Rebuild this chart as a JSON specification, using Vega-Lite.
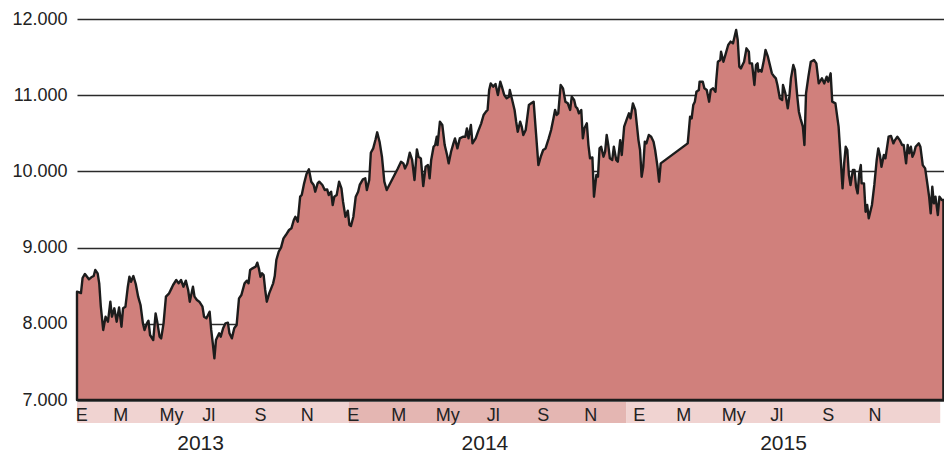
{
"$schema": "https://vega.github.io/schema/vega-lite/v6.json",
"padding": {"left": 11, "top": 10, "right": 0, "bottom": 0},
"background": "white",
"config": {"view": {"stroke": null}, "font": "Liberation Sans"},
"bounds": "flush",
"spacing": 2,
"vconcat": [
{
"width": 868, "height": 381,
"data": {"values": [
{"d":"2013-01-02","v":8421},{"d":"2013-01-07","v":8404},{"d":"2013-01-09","v":8601},{"d":"2013-01-12","v":8654},{"d":"2013-01-17","v":8584},{"d":"2013-01-20","v":8610},{"d":"2013-01-23","v":8627},{"d":"2013-01-25","v":8706},{"d":"2013-01-28","v":8662},{"d":"2013-01-30","v":8531},
{"d":"2013-02-01","v":8224},{"d":"2013-02-04","v":7919},{"d":"2013-02-07","v":8093},{"d":"2013-02-10","v":8028},{"d":"2013-02-13","v":8290},{"d":"2013-02-15","v":8093},{"d":"2013-02-18","v":8203},{"d":"2013-02-21","v":8028},{"d":"2013-02-24","v":8216},{"d":"2013-02-27","v":7962},
{"d":"2013-03-01","v":8203},{"d":"2013-03-04","v":8224},{"d":"2013-03-07","v":8487},{"d":"2013-03-09","v":8618},{"d":"2013-03-11","v":8552},{"d":"2013-03-14","v":8627},{"d":"2013-03-17","v":8522},{"d":"2013-03-20","v":8356},{"d":"2013-03-23","v":8247},{"d":"2013-03-26","v":8006},{"d":"2013-03-28","v":7919},{"d":"2013-03-31","v":8006},
{"d":"2013-04-02","v":8041},{"d":"2013-04-04","v":7853},{"d":"2013-04-08","v":7787},{"d":"2013-04-11","v":8137},{"d":"2013-04-13","v":8028},{"d":"2013-04-16","v":7831},{"d":"2013-04-18","v":7809},{"d":"2013-04-21","v":8006},{"d":"2013-04-24","v":8356},{"d":"2013-04-28","v":8400},
{"d":"2013-05-01","v":8465},{"d":"2013-05-03","v":8509},{"d":"2013-05-07","v":8575},{"d":"2013-05-10","v":8531},{"d":"2013-05-13","v":8575},{"d":"2013-05-16","v":8487},{"d":"2013-05-19","v":8566},{"d":"2013-05-22","v":8444},{"d":"2013-05-24","v":8290},{"d":"2013-05-28","v":8487},{"d":"2013-05-30","v":8356},
{"d":"2013-06-02","v":8312},{"d":"2013-06-05","v":8290},{"d":"2013-06-09","v":8224},{"d":"2013-06-11","v":8093},{"d":"2013-06-14","v":8072},{"d":"2013-06-18","v":8159},{"d":"2013-06-20","v":7919},{"d":"2013-06-22","v":7744},{"d":"2013-06-24","v":7547},{"d":"2013-06-26","v":7787},{"d":"2013-06-30","v":7875},
{"d":"2013-07-02","v":7831},{"d":"2013-07-05","v":7941},{"d":"2013-07-08","v":8006},{"d":"2013-07-11","v":8015},{"d":"2013-07-13","v":7875},{"d":"2013-07-16","v":7809},{"d":"2013-07-19","v":7941},{"d":"2013-07-22","v":7984},{"d":"2013-07-25","v":8334},{"d":"2013-07-28","v":8378},
{"d":"2013-08-01","v":8531},{"d":"2013-08-04","v":8566},{"d":"2013-08-06","v":8531},{"d":"2013-08-08","v":8706},{"d":"2013-08-11","v":8728},{"d":"2013-08-15","v":8750},{"d":"2013-08-17","v":8802},{"d":"2013-08-19","v":8728},{"d":"2013-08-21","v":8618},{"d":"2013-08-23","v":8662},{"d":"2013-08-25","v":8640},{"d":"2013-08-27","v":8444},{"d":"2013-08-29","v":8290},
{"d":"2013-09-01","v":8400},{"d":"2013-09-06","v":8531},{"d":"2013-09-08","v":8627},{"d":"2013-09-10","v":8837},{"d":"2013-09-13","v":8946},{"d":"2013-09-16","v":9003},{"d":"2013-09-19","v":9121},{"d":"2013-09-22","v":9165},{"d":"2013-09-26","v":9231},{"d":"2013-09-29","v":9253},
{"d":"2013-10-02","v":9362},{"d":"2013-10-04","v":9405},{"d":"2013-10-07","v":9340},{"d":"2013-10-10","v":9668},{"d":"2013-10-12","v":9690},{"d":"2013-10-15","v":9843},{"d":"2013-10-18","v":9966},{"d":"2013-10-21","v":10027},{"d":"2013-10-24","v":9865},{"d":"2013-10-27","v":9822},{"d":"2013-10-29","v":9734},
{"d":"2013-11-01","v":9843},{"d":"2013-11-03","v":9865},{"d":"2013-11-07","v":9822},{"d":"2013-11-10","v":9756},{"d":"2013-11-13","v":9764},{"d":"2013-11-15","v":9690},{"d":"2013-11-18","v":9734},{"d":"2013-11-20","v":9559},{"d":"2013-11-22","v":9668},{"d":"2013-11-25","v":9690},{"d":"2013-11-28","v":9865},
{"d":"2013-12-01","v":9778},{"d":"2013-12-03","v":9603},{"d":"2013-12-06","v":9405},{"d":"2013-12-09","v":9484},{"d":"2013-12-11","v":9297},{"d":"2013-12-13","v":9283},{"d":"2013-12-16","v":9405},{"d":"2013-12-19","v":9668},{"d":"2013-12-22","v":9734},{"d":"2013-12-24","v":9822},{"d":"2013-12-28","v":9896},{"d":"2013-12-31","v":9909},
{"d":"2014-01-02","v":9756},{"d":"2014-01-05","v":9887},{"d":"2014-01-07","v":10245},{"d":"2014-01-10","v":10302},{"d":"2014-01-13","v":10421},{"d":"2014-01-15","v":10513},{"d":"2014-01-18","v":10390},{"d":"2014-01-21","v":10193},{"d":"2014-01-24","v":9865},{"d":"2014-01-27","v":9756},
{"d":"2014-02-10","v":10039},{"d":"2014-02-14","v":10127},{"d":"2014-02-17","v":10105},{"d":"2014-02-19","v":10039},{"d":"2014-02-22","v":10105},{"d":"2014-02-25","v":10245},{"d":"2014-02-28","v":10150},
{"d":"2014-03-03","v":9887},{"d":"2014-03-06","v":10289},{"d":"2014-03-08","v":10193},{"d":"2014-03-11","v":10171},{"d":"2014-03-14","v":9808},{"d":"2014-03-17","v":10061},{"d":"2014-03-20","v":10083},{"d":"2014-03-22","v":9909},{"d":"2014-03-24","v":10150},{"d":"2014-03-27","v":10324},{"d":"2014-03-29","v":10346},{"d":"2014-03-31","v":10455},
{"d":"2014-04-01","v":10346},{"d":"2014-04-04","v":10652},{"d":"2014-04-07","v":10609},{"d":"2014-04-10","v":10346},{"d":"2014-04-13","v":10215},{"d":"2014-04-15","v":10105},{"d":"2014-04-18","v":10258},{"d":"2014-04-21","v":10368},{"d":"2014-04-23","v":10433},{"d":"2014-04-26","v":10302},{"d":"2014-04-29","v":10433},
{"d":"2014-05-03","v":10455},{"d":"2014-05-06","v":10455},{"d":"2014-05-08","v":10565},{"d":"2014-05-10","v":10433},{"d":"2014-05-13","v":10609},{"d":"2014-05-15","v":10368},{"d":"2014-05-19","v":10433},{"d":"2014-05-22","v":10521},{"d":"2014-05-26","v":10631},{"d":"2014-05-29","v":10740},
{"d":"2014-06-01","v":10784},{"d":"2014-06-03","v":10806},{"d":"2014-06-05","v":11068},{"d":"2014-06-07","v":11155},{"d":"2014-06-10","v":11112},{"d":"2014-06-13","v":11147},{"d":"2014-06-16","v":11003},{"d":"2014-06-19","v":11177},{"d":"2014-06-21","v":11112},{"d":"2014-06-24","v":11003},{"d":"2014-06-27","v":10959},{"d":"2014-06-30","v":10981},
{"d":"2014-07-01","v":11068},{"d":"2014-07-04","v":10937},{"d":"2014-07-07","v":10806},{"d":"2014-07-09","v":10652},{"d":"2014-07-11","v":10521},{"d":"2014-07-14","v":10652},{"d":"2014-07-16","v":10587},{"d":"2014-07-18","v":10478},{"d":"2014-07-21","v":10543},{"d":"2014-07-25","v":10871},{"d":"2014-07-28","v":10893},{"d":"2014-07-31","v":10915},
{"d":"2014-08-03","v":10500},{"d":"2014-08-06","v":10083},{"d":"2014-08-09","v":10193},{"d":"2014-08-12","v":10281},{"d":"2014-08-15","v":10302},{"d":"2014-08-19","v":10433},{"d":"2014-08-22","v":10543},{"d":"2014-08-25","v":10696},{"d":"2014-08-27","v":10806},{"d":"2014-08-29","v":10740},{"d":"2014-08-31","v":10762},
{"d":"2014-09-03","v":11134},{"d":"2014-09-06","v":11090},{"d":"2014-09-09","v":10915},{"d":"2014-09-12","v":10893},{"d":"2014-09-15","v":10806},{"d":"2014-09-17","v":10981},{"d":"2014-09-20","v":10937},{"d":"2014-09-22","v":10849},{"d":"2014-09-24","v":10827},{"d":"2014-09-26","v":10762},{"d":"2014-09-29","v":10806},
{"d":"2014-10-01","v":10433},{"d":"2014-10-03","v":10565},{"d":"2014-10-06","v":10631},{"d":"2014-10-08","v":10346},{"d":"2014-10-10","v":10171},{"d":"2014-10-13","v":10184},{"d":"2014-10-15","v":9668},{"d":"2014-10-18","v":9953},{"d":"2014-10-20","v":9930},{"d":"2014-10-22","v":10302},{"d":"2014-10-24","v":10324},{"d":"2014-10-27","v":10193},{"d":"2014-10-29","v":10258},{"d":"2014-10-31","v":10478},
{"d":"2014-11-02","v":10346},{"d":"2014-11-04","v":10171},{"d":"2014-11-07","v":10150},{"d":"2014-11-09","v":10324},{"d":"2014-11-12","v":10150},{"d":"2014-11-14","v":10127},{"d":"2014-11-17","v":10411},{"d":"2014-11-19","v":10215},{"d":"2014-11-22","v":10587},{"d":"2014-11-25","v":10675},{"d":"2014-11-28","v":10762},{"d":"2014-11-30","v":10696},
{"d":"2014-12-03","v":10893},{"d":"2014-12-06","v":10806},{"d":"2014-12-08","v":10609},{"d":"2014-12-10","v":10411},{"d":"2014-12-12","v":10281},{"d":"2014-12-14","v":9930},{"d":"2014-12-16","v":10061},{"d":"2014-12-18","v":10390},{"d":"2014-12-20","v":10368},{"d":"2014-12-23","v":10478},{"d":"2014-12-26","v":10455},{"d":"2014-12-29","v":10390},{"d":"2014-12-31","v":10281},
{"d":"2015-01-03","v":10061},{"d":"2015-01-05","v":9865},{"d":"2015-01-07","v":10105},
{"d":"2015-02-10","v":10368},{"d":"2015-02-11","v":10478},{"d":"2015-02-13","v":10718},{"d":"2015-02-15","v":10696},{"d":"2015-02-17","v":10871},{"d":"2015-02-19","v":10915},{"d":"2015-02-21","v":11046},{"d":"2015-02-24","v":11068},{"d":"2015-02-25","v":11177},
{"d":"2015-03-01","v":11177},{"d":"2015-03-03","v":11090},{"d":"2015-03-06","v":11068},{"d":"2015-03-09","v":10915},{"d":"2015-03-11","v":11068},{"d":"2015-03-14","v":11090},{"d":"2015-03-17","v":11046},{"d":"2015-03-18","v":11199},{"d":"2015-03-20","v":11439},{"d":"2015-03-23","v":11461},{"d":"2015-03-24","v":11571},{"d":"2015-03-27","v":11439},{"d":"2015-03-30","v":11549},
{"d":"2015-04-02","v":11659},{"d":"2015-04-05","v":11703},{"d":"2015-04-08","v":11680},{"d":"2015-04-10","v":11768},{"d":"2015-04-12","v":11856},{"d":"2015-04-14","v":11724},{"d":"2015-04-16","v":11374},{"d":"2015-04-18","v":11352},{"d":"2015-04-20","v":11396},{"d":"2015-04-22","v":11439},{"d":"2015-04-25","v":11615},{"d":"2015-04-28","v":11571},{"d":"2015-04-29","v":11418},
{"d":"2015-05-02","v":11418},{"d":"2015-05-05","v":11134},{"d":"2015-05-07","v":11396},{"d":"2015-05-09","v":11418},{"d":"2015-05-10","v":11309},{"d":"2015-05-12","v":11331},{"d":"2015-05-14","v":11309},{"d":"2015-05-17","v":11461},{"d":"2015-05-19","v":11593},{"d":"2015-05-22","v":11505},{"d":"2015-05-24","v":11418},{"d":"2015-05-27","v":11287},{"d":"2015-05-30","v":11243},
{"d":"2015-06-01","v":11221},{"d":"2015-06-03","v":11134},{"d":"2015-06-06","v":10959},{"d":"2015-06-09","v":10937},{"d":"2015-06-10","v":11134},{"d":"2015-06-13","v":11024},{"d":"2015-06-16","v":10827},{"d":"2015-06-18","v":10981},{"d":"2015-06-20","v":11221},{"d":"2015-06-23","v":11396},{"d":"2015-06-25","v":11331},{"d":"2015-06-28","v":10980},{"d":"2015-06-30","v":10784},
{"d":"2015-07-02","v":10696},{"d":"2015-07-05","v":10587},{"d":"2015-07-07","v":10346},{"d":"2015-07-09","v":11024},{"d":"2015-07-12","v":11243},{"d":"2015-07-15","v":11439},{"d":"2015-07-19","v":11461},{"d":"2015-07-22","v":11418},{"d":"2015-07-25","v":11155},{"d":"2015-07-29","v":11221},
{"d":"2015-08-01","v":11155},{"d":"2015-08-04","v":11243},{"d":"2015-08-06","v":11177},{"d":"2015-08-09","v":11287},{"d":"2015-08-11","v":10915},{"d":"2015-08-15","v":10893},{"d":"2015-08-19","v":10587},{"d":"2015-08-22","v":10105},{"d":"2015-08-24","v":9778},{"d":"2015-08-26","v":10105},{"d":"2015-08-28","v":10324},{"d":"2015-08-30","v":10281},
{"d":"2015-09-01","v":9953},{"d":"2015-09-03","v":9822},{"d":"2015-09-06","v":10019},{"d":"2015-09-08","v":10019},{"d":"2015-09-10","v":9799},{"d":"2015-09-12","v":9712},{"d":"2015-09-14","v":9974},{"d":"2015-09-16","v":10083},{"d":"2015-09-17","v":9843},{"d":"2015-09-20","v":9843},{"d":"2015-09-22","v":9471},{"d":"2015-09-24","v":9559},{"d":"2015-09-26","v":9384},{"d":"2015-09-30","v":9559},
{"d":"2015-10-03","v":9822},{"d":"2015-10-06","v":10150},{"d":"2015-10-08","v":10302},{"d":"2015-10-10","v":10215},{"d":"2015-10-12","v":10061},{"d":"2015-10-15","v":10215},{"d":"2015-10-17","v":10171},{"d":"2015-10-21","v":10455},{"d":"2015-10-24","v":10465},{"d":"2015-10-27","v":10368},{"d":"2015-10-29","v":10411},
{"d":"2015-11-01","v":10455},{"d":"2015-11-04","v":10411},{"d":"2015-11-07","v":10346},{"d":"2015-11-09","v":10346},{"d":"2015-11-12","v":10105},{"d":"2015-11-14","v":10346},{"d":"2015-11-16","v":10237},{"d":"2015-11-18","v":10324},{"d":"2015-11-20","v":10193},{"d":"2015-11-22","v":10237},{"d":"2015-11-24","v":10324},{"d":"2015-11-28","v":10368},{"d":"2015-11-30","v":10324},
{"d":"2015-12-03","v":10083},{"d":"2015-12-06","v":10039},{"d":"2015-12-09","v":9822},{"d":"2015-12-11","v":9668},{"d":"2015-12-13","v":9449},{"d":"2015-12-15","v":9799},{"d":"2015-12-17","v":9580},{"d":"2015-12-19","v":9668},{"d":"2015-12-22","v":9428},{"d":"2015-12-24","v":9668},{"d":"2015-12-27","v":9625},{"d":"2015-12-29","v":9625}
]},
"mark": {"type": "area", "fill": "#d0807c", "stroke": "#1c1c1c", "strokeWidth": 2.4, "strokeJoin": "round"},
"encoding": {
"x": {"field": "d", "type": "temporal",
"scale": {"domain": [{"year": 2013, "month": 1, "date": 2, "utc": true}, {"year": 2015, "month": 12, "date": 31, "utc": true}]},
"axis": {"title": null, "labels": false, "grid": false, "domainColor": "#111", "domainWidth": 2, "tickColor": "#333", "tickSize": -4, "tickWidth": 1.5, "tickCount": {"interval": "month", "step": 2}}},
"y": {"field": "v", "type": "quantitative",
"scale": {"domain": [7000, 12000], "nice": false, "zero": false},
"axis": {"title": null, "values": [7000, 8000, 9000, 10000, 11000, 12000], "labelExpr": "replace(format(datum.value, ','), ',', '.')", "domain": false, "ticks": false, "labelPadding": 10, "labelFontSize": 18, "labelColor": "#222", "labelFlush": false, "gridColor": "#2a2a2a", "gridWidth": 1.4, "gridOpacity": 1}},
"y2": {"datum": 7000}
}
},
{
"width": 868, "height": 21,
"layer": [
{
"data": {"values": [
{"yr": "2013", "s": "2013-01-02", "e": "2013-12-10"},
{"yr": "2014", "s": "2013-12-10", "e": "2014-11-25"},
{"yr": "2015", "s": "2014-11-25", "e": "2015-12-25"}
]},
"mark": {"type": "rect"},
"encoding": {
"x": {"field": "s", "type": "temporal",
"scale": {"domain": [{"year": 2013, "month": 1, "date": 2, "utc": true}, {"year": 2015, "month": 12, "date": 31, "utc": true}]},
"axis": {"title": null, "values": [{"year": 2013, "month": 6, "date": 6, "utc": true}, {"year": 2014, "month": 5, "date": 30, "utc": true}, {"year": 2015, "month": 6, "date": 10, "utc": true}], "labelExpr": "utcFormat(datum.value, '%Y')", "domain": false, "ticks": false, "grid": false, "labelFontSize": 21, "labelPadding": 9, "labelColor": "#222", "labelFlush": false, "labelOverlap": false}},
"x2": {"field": "e"},
"color": {"field": "yr", "type": "nominal", "scale": {"domain": ["2013", "2014", "2015"], "range": ["#f0d3d1", "#e4b6b2", "#f0d3d1"]}, "legend": null}
}
},
{
"data": {"values": [
{"m": "E", "t": "2013-01-08"}, {"m": "M", "t": "2013-02-26"}, {"m": "My", "t": "2013-05-01"}, {"m": "Jl", "t": "2013-06-17"}, {"m": "S", "t": "2013-08-21"}, {"m": "N", "t": "2013-10-19"},
{"m": "E", "t": "2013-12-16"}, {"m": "M", "t": "2014-02-11"}, {"m": "My", "t": "2014-04-14"}, {"m": "Jl", "t": "2014-06-10"}, {"m": "S", "t": "2014-08-12"}, {"m": "N", "t": "2014-10-11"},
{"m": "E", "t": "2014-12-11"}, {"m": "M", "t": "2015-02-05"}, {"m": "My", "t": "2015-04-09"}, {"m": "Jl", "t": "2015-06-02"}, {"m": "S", "t": "2015-08-06"}, {"m": "N", "t": "2015-10-04"}
]},
"mark": {"type": "text", "fontSize": 18, "color": "#222", "baseline": "middle", "dy": 3},
"encoding": {
"x": {"field": "t", "type": "temporal", "scale": {"domain": [{"year": 2013, "month": 1, "date": 2, "utc": true}, {"year": 2015, "month": 12, "date": 31, "utc": true}]}},
"text": {"field": "m"}
}
}
]
}
]
}
